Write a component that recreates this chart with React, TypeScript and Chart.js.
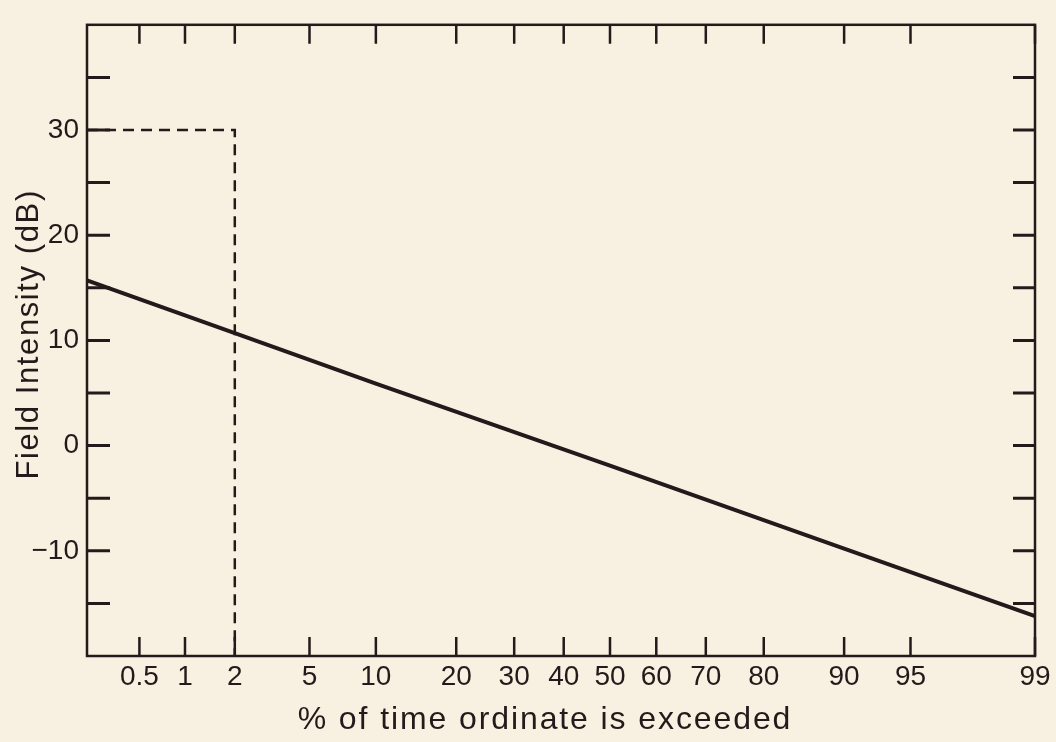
import React, { useEffect, useRef } from 'react';
import { Chart, registerables } from 'chart.js';

Chart.register(...registerables);

// ---- data ----
const X_MIN_PCT = 0.21;
const X_MAX_PCT = 99;
const xTickPercents = [0.5, 1, 2, 5, 10, 20, 30, 40, 50, 60, 70, 80, 90, 95, 99];
const xTickLabels = ['0.5', '1', '2', '5', '10', '20', '30', '40', '50', '60', '70', '80', '90', '95', '99'];

const Y_MIN = -20;
const Y_MAX = 40;
const Y_STEP = 5;
const yLabelValues = [-10, 0, 10, 20, 30];
const yLabelTexts = ['\u221210', '0', '10', '20', '30'];

const linePercents = [0.21, 2, 10, 50, 90, 99];
const lineValues = [15.7, 10.7, 5.9, -1.9, -9.8, -16.2];

const dashPercents = [0.21, 2, 2];
const dashValues = [30, 30, -20];

const X_TITLE = '% of time ordinate is exceeded';
const Y_TITLE = 'Field Intensity (dB)';

const BG = '#f8f1e1';
const INK = '#241a1b';
const FONT = 'Liberation Sans, Arial, sans-serif';

// inverse standard normal CDF (Acklam) – probability-paper transform
function probit(pct: number): number {
  const p = pct / 100;
  const a = [-3.969683028665376e1, 2.209460984245205e2, -2.759285104469687e2, 1.38357751867269e2, -3.066479806614716e1, 2.506628277459239];
  const b = [-5.447609879822406e1, 1.615858368580409e2, -1.556989798598866e2, 6.680131188771972e1, -1.328068155288572e1];
  const c = [-7.784894002430293e-3, -3.223964580411365e-1, -2.400758277161838, -2.549732539343734, 4.374664141464968, 2.938163982698783];
  const d = [7.784695709041462e-3, 3.224671290700398e-1, 2.445134137142996, 3.754408661907416];
  const plow = 0.02425;
  if (p < plow) {
    const q = Math.sqrt(-2 * Math.log(p));
    return (((((c[0] * q + c[1]) * q + c[2]) * q + c[3]) * q + c[4]) * q + c[5]) /
      ((((d[0] * q + d[1]) * q + d[2]) * q + d[3]) * q + 1);
  }
  if (p <= 1 - plow) {
    const q = p - 0.5;
    const r = q * q;
    return ((((((a[0] * r + a[1]) * r + a[2]) * r + a[3]) * r + a[4]) * r + a[5]) * q) /
      (((((b[0] * r + b[1]) * r + b[2]) * r + b[3]) * r + b[4]) * r + 1);
  }
  const q = Math.sqrt(-2 * Math.log(1 - p));
  return -(((((c[0] * q + c[1]) * q + c[2]) * q + c[3]) * q + c[4]) * q + c[5]) /
    ((((d[0] * q + d[1]) * q + d[2]) * q + d[3]) * q + 1);
}

const TITLE_SPACING: Record<string, string> = { x: '1.9px', y: '1.6px' };
const TITLE_SHIFT: Record<string, [number, number]> = { x: [-16, 0], y: [0, -6] };

const framePlugin = {
  id: 'frameTicks',
  afterLayout(chart: any) {
    for (const id of Object.keys(chart.scales)) {
      const s = chart.scales[id];
      if (!s.__lsPatched) {
        const orig = s.drawTitle;
        s.drawTitle = function (...args: any[]) {
          const ctx = this.ctx;
          ctx.save();
          try { ctx.letterSpacing = TITLE_SPACING[this.id] || '0px'; } catch (e) {}
          const sh = TITLE_SHIFT[this.id] || [0, 0];
          ctx.translate(sh[0], sh[1]);
          orig.apply(this, args);
          ctx.restore();
        };
        s.__lsPatched = true;
      }
    }
  },
  afterDraw(chart: any) {
    const ctx = chart.ctx;
    const ca = chart.chartArea;
    const xs = chart.scales.x;
    const ys = chart.scales.y;
    ctx.save();
    ctx.strokeStyle = INK;
    ctx.lineCap = 'butt';
    ctx.lineWidth = 2.5;
    ctx.beginPath();
    for (const p of xTickPercents) {
      const px = xs.getPixelForValue(probit(p));
      ctx.moveTo(px, ca.bottom);
      ctx.lineTo(px, ca.bottom - 19);
      ctx.moveTo(px, ca.top);
      ctx.lineTo(px, ca.top + 19);
    }
    ctx.stroke();
    ctx.lineWidth = 3;
    ctx.beginPath();
    for (let v = Y_MIN + Y_STEP; v < Y_MAX; v += Y_STEP) {
      const py = ys.getPixelForValue(v);
      ctx.moveTo(ca.left, py);
      ctx.lineTo(ca.left + 23, py);
      ctx.moveTo(ca.right, py);
      ctx.lineTo(ca.right - 22, py);
    }
    ctx.stroke();
    ctx.lineWidth = 2.5;
    ctx.strokeRect(ca.left, ca.top, ca.right - ca.left, ca.bottom - ca.top);
    ctx.restore();
  },
};

export default function App() {
  const ref = useRef<HTMLCanvasElement | null>(null);

  useEffect(() => {
    if (!ref.current) return;
    const chart = new Chart(ref.current, {
      type: 'line',
      data: {
        datasets: [
          {
            label: 'Field intensity',
            data: linePercents.map((p, i) => ({ x: probit(p), y: lineValues[i] })),
            borderColor: INK,
            borderWidth: 4,
            pointRadius: 0,
            tension: 0,
            fill: false,
          },
          {
            label: 'Limit',
            data: dashPercents.map((p, i) => ({ x: probit(p), y: dashValues[i] })),
            borderColor: INK,
            borderWidth: 2.5,
            borderDash: [11, 7],
            pointRadius: 0,
            tension: 0,
            fill: false,
          },
        ],
      },
      options: {
        animation: false,
        responsive: false,
        layout: { padding: { top: 11, right: 21, left: 0, bottom: 0 } },
        plugins: { legend: { display: false }, tooltip: { enabled: false } },
        scales: {
          x: {
            type: 'linear',
            min: probit(X_MIN_PCT),
            max: probit(X_MAX_PCT),
            afterFit: (s: any) => { s.height = 86; },
            afterBuildTicks: (s: any) => {
              s.ticks = xTickPercents.map((p) => ({ value: probit(p) }));
            },
            grid: { display: false, drawTicks: false },
            border: { display: false },
            ticks: {
              autoSkip: false,
              maxRotation: 0,
              padding: 4,
              color: INK,
              font: { family: FONT, size: 28 },
              callback: (_v: any, i: number) => xTickLabels[i],
            },
            title: {
              display: true,
              text: X_TITLE,
              color: INK,
              font: { family: FONT, size: 32 },
              padding: { top: 0, bottom: 3 },
            },
          },
          y: {
            type: 'linear',
            min: Y_MIN,
            max: Y_MAX,
            afterFit: (s: any) => { s.width = 87; },
            grid: { display: false, drawTicks: false },
            border: { display: false },
            ticks: {
              stepSize: Y_STEP,
              autoSkip: false,
              padding: 8,
              color: INK,
              font: { family: FONT, size: 28 },
              callback: (v: any) => {
                const i = yLabelValues.indexOf(Number(v));
                return i >= 0 ? yLabelTexts[i] : '';
              },
            },
            title: {
              display: true,
              text: Y_TITLE,
              color: INK,
              font: { family: FONT, size: 31 },
              padding: { top: 11, bottom: 0 },
            },
          },
        },
      },
      plugins: [framePlugin],
    } as any);
    return () => chart.destroy();
  }, []);

  return (
    <div style={{ position: 'fixed', left: 0, top: 0, width: 1056, height: 742, background: BG }}>
      <canvas ref={ref} width={1056} height={742} style={{ display: 'block' }} />
    </div>
  );
}
